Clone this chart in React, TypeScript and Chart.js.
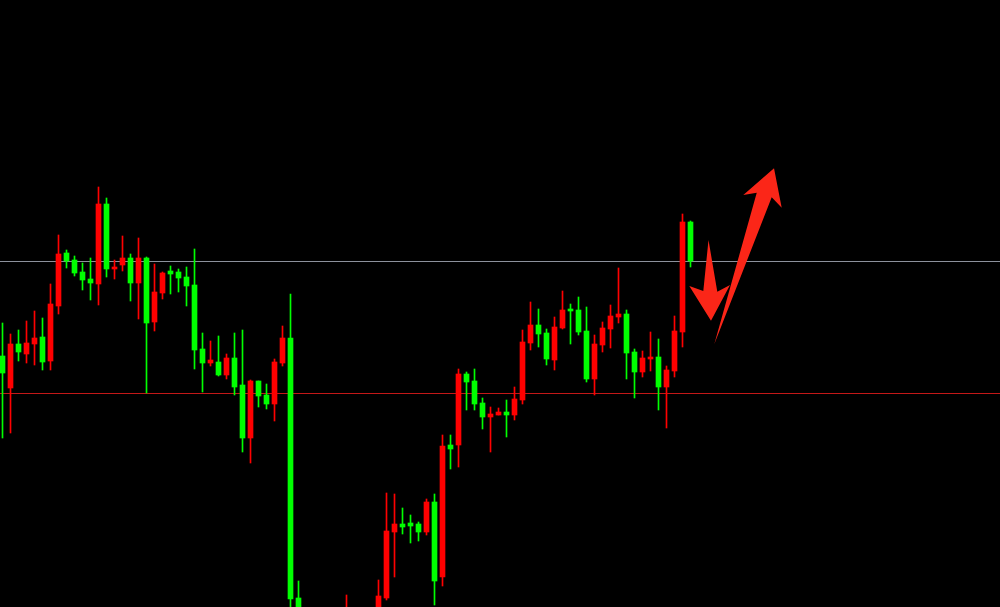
import React, { useEffect, useRef } from "react";
import { Chart, registerables } from "chart.js";

Chart.register(...registerables);

// OHLC quotes, one per bar (index = bar number)
const opens = [
  644, 612, 656, 646, 656, 663, 639, 694, 747, 740, 728, 721, 716, 796, 731, 735, 742, 717, 742, 678,
  707, 729, 728, 723, 715, 651, 637, 638, 625, 642, 615, 562, 619, 605, 596, 637, 662, 402, 372, 350,
  328, 338, 320, 350, 380, 360, 342, 360, 402, 468, 476, 477, 476, 468, 498, 423, 555, 555, 626, 619,
  597, 583, 585, 588, 585, 600, 657, 675, 667, 640, 672, 691, 690, 669, 621, 655, 671, 683, 686, 648,
  628, 641, 643, 613, 629, 668, 778,
];
const highs = [
  677, 666, 670, 679, 689, 682, 716, 765, 750, 744, 737, 742, 813, 802, 740, 764, 746, 762, 743, 736,
  728, 734, 731, 733, 751, 667, 659, 664, 646, 667, 670, 620, 619, 616, 641, 674, 706, 419, 385, 360,
  352, 348, 360, 405, 390, 372, 375, 420, 507, 506, 492, 485, 478, 501, 506, 565, 565, 631, 628, 631,
  602, 593, 592, 600, 613, 670, 698, 691, 671, 683, 709, 696, 703, 693, 665, 678, 695, 732, 690, 651,
  649, 668, 661, 634, 684, 786, 779,
];
const lows = [
  562, 567, 639, 637, 635, 630, 630, 686, 732, 724, 710, 700, 695, 723, 721, 729, 699, 681, 607, 669,
  701, 706, 708, 694, 631, 608, 634, 624, 621, 605, 548, 537, 593, 591, 579, 634, 385, 360, 338, 310,
  315, 300, 312, 340, 345, 328, 332, 352, 400, 423, 466, 457, 459, 465, 395, 414, 531, 533, 590, 590,
  571, 548, 585, 563, 580, 596, 650, 653, 635, 630, 671, 656, 665, 618, 605, 648, 652, 677, 621, 602,
  623, 629, 590, 572, 623, 653, 733,
];
const closes = [
  627, 656, 648, 657, 662, 638, 696, 746, 739, 727, 720, 717, 796, 731, 733, 742, 717, 742, 677, 708,
  727, 726, 722, 714, 650, 637, 640, 625, 642, 613, 562, 619, 604, 596, 638, 662, 401, 372, 350, 332,
  340, 320, 345, 380, 358, 340, 360, 404, 469, 476, 473, 474, 468, 498, 419, 554, 551, 626, 618, 596,
  583, 586, 588, 585, 601, 658, 675, 666, 641, 673, 690, 689, 668, 621, 656, 672, 684, 686, 647, 628,
  642, 643, 613, 630, 669, 778, 739,
];

// Horizontal reference levels
const upperLevel = 738.5;
const lowerLevel = 606.5;

// Visible window
const xMin = -0.3125;
const xMax = 124.6875;
const yMin = 393;
const yMax = 1000;

// Arrow outlines in (bar index, price) space
const downArrow: [number, number][] = [
  [88.25, 760], [89.35, 708.3], [90.94, 715], [88.56, 679.3], [85.85, 714], [87.6, 709],
];
const upArrow: [number, number][] = [
  [88.98, 656], [96.15, 802.7], [97.4, 792.3], [96.44, 831.7], [92.6, 805], [94.28, 807.3],
];

const UP_COLOR = "#ff0000";
const DOWN_COLOR = "#00ff00";
const ARROW_COLOR = "#fb2618";

const arrowPlugin = {
  id: "arrows",
  afterDatasetsDraw(chart: any) {
    const { ctx, scales } = chart;
    const xs = scales.x;
    const ys = scales.y;
    ctx.save();
    ctx.fillStyle = ARROW_COLOR;
    for (const shape of [downArrow, upArrow]) {
      ctx.beginPath();
      shape.forEach(([i, p], n) => {
        const px = xs.getPixelForValue(i);
        const py = ys.getPixelForValue(p);
        if (n === 0) ctx.moveTo(px, py);
        else ctx.lineTo(px, py);
      });
      ctx.closePath();
      ctx.fill();
    }
    ctx.restore();
  },
};

export default function App() {
  const canvasRef = useRef<HTMLCanvasElement | null>(null);

  useEffect(() => {
    document.body.style.margin = "0";
    document.body.style.background = "#000";
    const canvas = canvasRef.current;
    if (!canvas) return;

    const colors = opens.map((o, i) => (closes[i] >= o ? UP_COLOR : DOWN_COLOR));
    const bodies = opens.map((o, i) => ({ x: i, y: [o, closes[i]] }));
    const wicks = lows.map((l, i) => ({ x: i, y: [l, highs[i]] }));

    const chart = new Chart(canvas, {
      type: "bar",
      data: {
        datasets: [
          {
            type: "bar",
            label: "body",
            data: bodies as any,
            backgroundColor: colors,
            borderWidth: 0,
            barThickness: 5,
            grouped: false,
            order: 1,
          } as any,
          {
            type: "bar",
            label: "wick",
            data: wicks as any,
            backgroundColor: colors,
            borderWidth: 0,
            barThickness: 1,
            grouped: false,
            order: 2,
          } as any,
          {
            type: "line",
            label: "upper",
            data: [
              { x: xMin, y: upperLevel },
              { x: xMax, y: upperLevel },
            ],
            borderColor: "#8c919c",
            borderWidth: 1,
            pointRadius: 0,
            order: 10,
          } as any,
          {
            type: "line",
            label: "lower",
            data: [
              { x: xMin, y: lowerLevel },
              { x: xMax, y: lowerLevel },
            ],
            borderColor: "#c41818",
            borderWidth: 1,
            pointRadius: 0,
            order: 10,
          } as any,
        ],
      },
      options: {
        responsive: false,
        animation: false,
        layout: { padding: 0 },
        plugins: {
          legend: { display: false },
          title: { display: false },
          tooltip: { enabled: false },
        },
        scales: {
          x: {
            type: "linear",
            min: xMin,
            max: xMax,
            offset: false,
            display: false,
          },
          y: {
            type: "linear",
            min: yMin,
            max: yMax,
            display: false,
          },
        },
      },
      plugins: [arrowPlugin],
    });

    return () => chart.destroy();
  }, []);

  return (
    <div style={{ width: 1000, height: 607, background: "#000" }}>
      <canvas ref={canvasRef} width={1000} height={607} style={{ display: "block" }} />
    </div>
  );
}
